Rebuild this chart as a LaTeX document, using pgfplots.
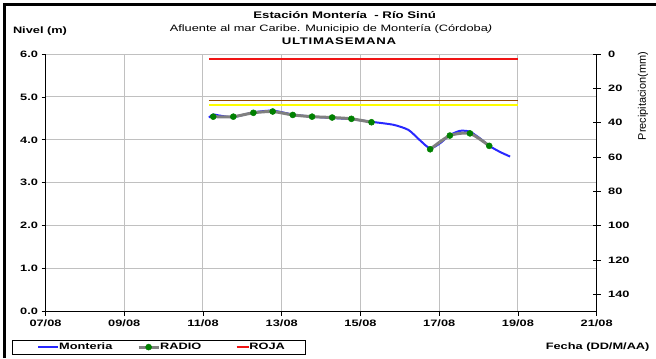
\documentclass[border=0pt]{standalone}
\usepackage{fontspec}
\setmainfont{Liberation Sans}[
    UprightFont={Liberation Sans},
    BoldFont={Liberation Sans Bold},
    ItalicFont={Liberation Sans Italic},
    UprightFeatures={FakeStretch=1.38},
    BoldFeatures={FakeStretch=1.38},
    ItalicFeatures={FakeStretch=1.38}]
\newfontfamily\plainsans{Liberation Sans}
\usepackage{pgfplots}
\pgfplotsset{compat=1.18}

\definecolor{gridgray}{RGB}{192,192,192}
\definecolor{nivelblue}{RGB}{40,40,255}
\definecolor{radiogray}{RGB}{128,128,128}
\definecolor{radiogreen}{RGB}{0,128,0}
\definecolor{naranja}{RGB}{150,75,0}
\definecolor{amarilla}{RGB}{255,255,0}
\definecolor{alertaroja}{RGB}{240,20,20}
\newcommand\cf{\fontsize{9.3}{11}\selectfont}

\pgfplotsset{
    imgmonteria/.style={legend image code/.code={\path (-25bp,0bp); \draw[##1] (0bp,0bp) -- (20bp,0bp);}},
    imgradio/.style={legend image code/.code={\path (-27bp,0bp); \draw[mark repeat=2, mark phase=2, ##1] plot coordinates {(0bp,0bp) (10bp,0bp) (20bp,0bp)};}},
    imgroja/.style={legend image code/.code={\path (-34.5bp,0bp); \draw[##1] (0bp,0bp) -- (12bp,0bp);}},
}

\begin{document}
\begin{tikzpicture}[x=1bp,y=1bp]
\useasboundingbox (0,0) rectangle (656,358);
\draw[line width=2.5bp] (4.5,0) -- (4.5,353.5) -- (656,353.5);

\begin{axis}[
    at={(45.5bp,46.5bp)}, anchor=south west,
    scale only axis, width=551.2bp, height=257.5bp,
    xmin=7, xmax=21, ymin=0, ymax=6,
    axis x line*=bottom, axis y line*=left,
    axis line style={-, black, line width=0.8bp},
    xtick={7,9,...,21},
    xticklabels={07/08,09/08,11/08,13/08,15/08,17/08,19/08,21/08},
    ytick={0,1,...,6},
    yticklabels={0.0,1.0,2.0,3.0,4.0,5.0,6.0},
    tick align=outside, major tick length=4bp,
    tick style={black, line width=0.8bp},
    xmajorgrids, ymajorgrids,
    major grid style={gridgray, line width=1bp},
    ticklabel style={font=\cf\bfseries},
    yticklabel style={anchor=east, xshift=0bp},
    xticklabel style={anchor=north, yshift=-1bp},
    legend columns=3,
    legend cell align=left,
    legend style={at={(-0.0613,-0.167)}, anchor=south west,
        draw=black, line width=0.8bp, font=\cf\bfseries,
        inner xsep=0pt, inner ysep=2.5bp, column sep=0pt,
        nodes={inner sep=0pt, text height=7bp, text depth=2bp}},
]
% Monteria (nivel)
\addplot[color=nivelblue, line width=2bp, smooth, tension=0.4, imgmonteria]
coordinates {
(11.15,4.52) (11.26,4.59) (11.39,4.57) (11.77,4.53) (12.28,4.64)
(12.77,4.68) (13.28,4.59) (13.77,4.54) (14.28,4.51) (14.77,4.48)
(15.28,4.42) (15.84,4.35) (16.22,4.23) (16.51,3.99) (16.77,3.80)
(17.02,3.92) (17.27,4.11) (17.53,4.21) (17.78,4.19) (18.04,4.03)
(18.27,3.86) (18.54,3.72) (18.80,3.61)
};
\addlegendentry{\makebox[51bp][l]{Monteria}}
% RADIO
\addplot[color=radiogray, line width=3bp, smooth, tension=0.4,
    unbounded coords=jump,
    mark=*, mark size=3bp, mark options={fill=radiogreen, draw=radiogreen, line width=0.5bp},
    imgradio]
coordinates {
(11.26,4.54) (11.77,4.54) (12.28,4.63) (12.77,4.66) (13.28,4.58)
(13.77,4.54) (14.28,4.52) (14.77,4.49) (15.28,4.41) (16.00,nan)
(16.77,3.78) (17.27,4.10) (17.78,4.15) (18.27,3.86)
};
\addlegendentry{RADIO}
% ROJA
\addplot[alertaroja, line width=1.6bp, imgroja]
coordinates {(11.15,5.88) (19.0,5.88)};
\addlegendentry{\makebox[56bp][l]{ROJA}}
% naranja y amarilla
\addplot[color=naranja, line width=1.2bp, forget plot] coordinates {(11.15,4.92) (19.0,4.92)};
\addplot[color=amarilla, line width=1.8bp, forget plot] coordinates {(11.15,4.82) (19.0,4.82)};
\end{axis}

\begin{axis}[
    at={(45.5bp,46.5bp)}, anchor=south west,
    scale only axis, width=551.2bp, height=257.5bp,
    xmin=7, xmax=21, ymin=0, ymax=150, y dir=reverse,
    axis x line=none, axis y line*=right,
    axis line style={-, black, line width=0.8bp},
    ytick={0,20,...,140},
    yticklabels={0,20,40,60,80,100,120,140},
    tick align=center, major tick length=8bp,
    tick style={black, line width=0.8bp},
    ticklabel style={font=\cf\bfseries},
    yticklabel style={anchor=west, xshift=4bp},
]
\end{axis}

\node[font=\fontsize{9.6}{11}\selectfont\bfseries] at (344.7,343) {Estación Montería\ \ - Río Sinú};
\node[font=\cf] at (331,328.7) {Afluente al mar Caribe. Municipio de Montería (Córdoba\textit{)}};
\node[font=\fontsize{9.6}{11}\selectfont\bfseries] at (339,316.3) {\addfontfeature{LetterSpace=8}ULTIMASEMANA};
\node[font=\cf\bfseries] at (40,327.3) {Nivel (m)};
\node[font=\cf\bfseries, anchor=east] at (653,11.3) {Fecha (DD/M/AA)};
\node[font=\plainsans\fontsize{11}{13}\selectfont, rotate=90] at (643,262) {Precipitacion(mm)};
\end{tikzpicture}
\end{document}
